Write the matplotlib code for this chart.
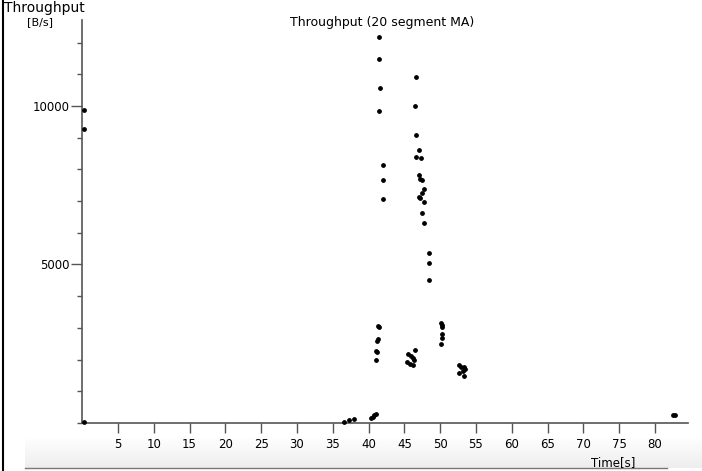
import matplotlib.pyplot as plt
import numpy as np
from matplotlib.ticker import MultipleLocator

# throughput samples (20 segment moving average), time in s, value in B/s
t_start = [0.25, 0.25, 0.25]
v_start = [9870, 9270, 30]

t_low = [36.6, 37.3, 38.0, 40.4, 40.6, 40.8, 41.0]
v_low = [40, 85, 115, 150, 200, 250, 270]

t_peak1 = [41.5, 41.4, 41.55, 41.45, 42.05, 42.05, 41.97]
v_peak1 = [12175, 11490, 10560, 9850, 8125, 7650, 7080]

t_peak2 = [46.62, 46.44, 46.62, 47.0, 46.58, 47.28, 47.0, 47.18, 47.46, 47.74,
           47.5, 47.04, 47.18, 47.78, 47.46, 47.7, 48.48, 48.48, 48.44]
v_peak2 = [10910, 10000, 9075, 8610, 8400, 8345, 7820, 7710, 7660, 7375,
           7240, 7130, 7100, 6970, 6625, 6310, 5360, 5055, 4515]

t_mid41 = [41.36, 41.45, 41.27, 41.13, 41.03, 41.2, 41.03]
v_mid41 = [3070, 3015, 2650, 2575, 2280, 2225, 1985]

t_mid46 = [46.44, 45.54, 45.88, 46.16, 46.34, 45.41, 45.78, 46.24]
v_mid46 = [2300, 2175, 2120, 2050, 1985, 1910, 1860, 1835]

t_mid50 = [50.11, 50.29, 50.29, 50.2, 50.29, 50.07]
v_mid50 = [3155, 3100, 3015, 2805, 2670, 2490]

t_mid53 = [52.67, 52.9, 53.32, 53.46, 53.14, 52.62, 53.32]
v_mid53 = [1835, 1770, 1750, 1690, 1645, 1575, 1480]

t_end = [82.5, 82.8]
v_end = [260, 250]

x_ticks = list(range(5, 85, 5))
y_ticks = [5000, 10000]

t = t_start + t_low + t_peak1 + t_peak2 + t_mid41 + t_mid46 + t_mid50 + t_mid53 + t_end
v = v_start + v_low + v_peak1 + v_peak2 + v_mid41 + v_mid46 + v_mid50 + v_mid53 + v_end

fig = plt.figure(figsize=(7.02, 4.71), dpi=100)

# window frame: grey gradient at the bottom, dark line on the left
bg = fig.add_axes([0, 0, 1, 1], zorder=-1)
grad = np.linspace(0.93, 1.0, 40).reshape(-1, 1)
bg.imshow(grad, cmap='gray', vmin=0, vmax=1, aspect='auto', origin='lower',
          extent=[0.035, 1, 0.006, 0.075])
bg.plot([0.035, 0.95], [0.006, 0.006], color='#777777', lw=1)
bg.plot([0.004, 0.004], [0, 1], color='black', lw=1.5)
bg.set_xlim(0, 1)
bg.set_ylim(0, 1)
bg.axis('off')

ax = fig.add_axes([0.117, 0.102, 0.863, 0.856])
ax.patch.set_alpha(0)
ax.scatter(t, v, s=6, color='black', zorder=3, clip_on=False)

ax.set_xlim(0, 84.6)
ax.set_ylim(0, 12720)
ax.set_xticks(x_ticks)
ax.set_yticks(y_ticks)
ax.yaxis.set_minor_locator(MultipleLocator(1000))
ax.tick_params(axis='x', direction='out', length=7, width=1, color='#555555',
               labelsize=8.5, pad=3.5)
ax.tick_params(axis='y', which='major', direction='out', length=8, width=1,
               color='#555555', labelsize=8.5, pad=1)
ax.tick_params(axis='y', which='minor', direction='out', length=3.6, width=1,
               color='#555555')
for s in ['top', 'right']:
    ax.spines[s].set_visible(False)
for s in ['left', 'bottom']:
    ax.spines[s].set_color('#555555')
    ax.spines[s].set_linewidth(1.2)

fig.text(0.544, 0.953, 'Throughput (20 segment MA)', fontsize=9, ha='center', va='center')
fig.text(0.006, 0.983, 'Throughput', fontsize=10, ha='left', va='center')
fig.text(0.057, 0.953, '[B/s]', fontsize=8, ha='center', va='center')
fig.text(0.874, 0.017, 'Time[s]', fontsize=8.5, ha='center', va='center')

fig.savefig('out.png', dpi=100)
